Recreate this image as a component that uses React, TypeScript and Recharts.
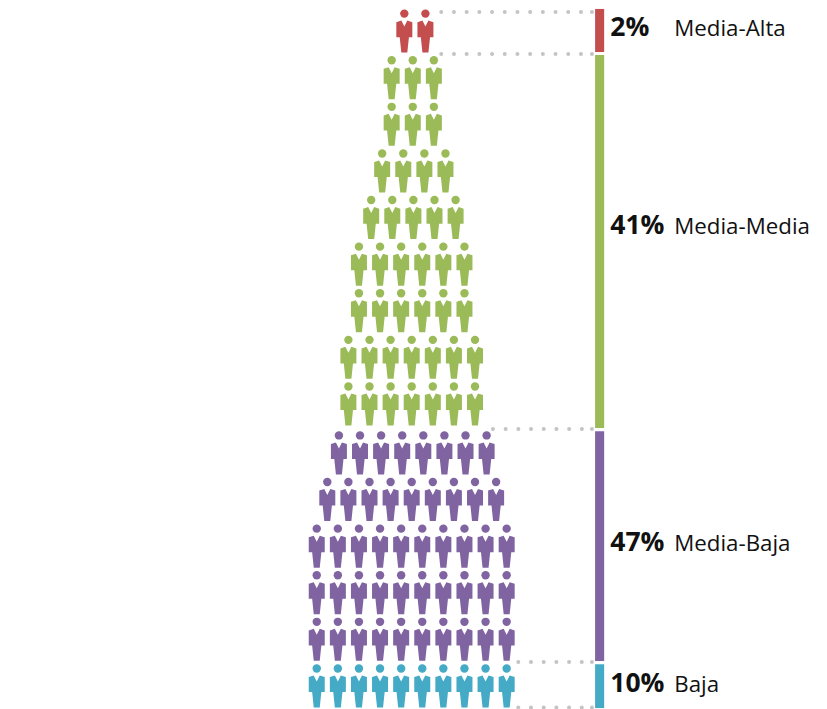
import { ScatterChart, Scatter, XAxis, YAxis, ReferenceArea, ReferenceLine, ReferenceDot } from 'recharts';

const RED = '#c44d4d';
const GREEN = '#9bbb59';
const PURPLE = '#8064a2';
const TEAL = '#44aac5';

// one entry per row of figures, top to bottom
const rowCounts = [2, 3, 3, 4, 5, 6, 6, 7, 7, 8, 9, 10, 10, 10, 10];
const rowStarts = [4.15, 3.55, 3.55, 3.1, 2.58, 2.0, 2.0, 1.5, 1.5, 1.05, 0.5, 0, 0, 0, 0];
const rowLevels = [0, 1, 2, 3, 4, 5, 6, 7, 8, 9.05, 10.05, 11.05, 12.05, 13.05, 14.05];
const rowColors = [RED, GREEN, GREEN, GREEN, GREEN, GREEN, GREEN, GREEN, GREEN, PURPLE, PURPLE, PURPLE, PURPLE, PURPLE, TEAL];

// side bars, in row units
const barTops = [-0.1, 0.888, 8.96, 13.96];
const barBottoms = [0.824, 8.893, 13.89, 14.9];
const barColors = [RED, GREEN, PURPLE, TEAL];
const percents = ['2%', '41%', '47%', '10%'];
const classes = ['Media-Alta', 'Media-Media', 'Media-Baja', 'Baja'];
const labelLevels = [0.491, 4.736, 11.53, 14.55];

// dotted guides
const guideLevels = [-0.034, 0.867, 8.913, 13.91, 14.89];
const guideStarts = [5.9, 5.9, 8.35, 9.55, 9.55];

const BAR_X1 = 13.19;
const BAR_X2 = 13.62;
const GUIDE_END = 13.04;
const LABEL_X = 13.91;

const people = rowCounts.flatMap((n, r) =>
    Array.from({ length: n }, (_, i) => ({ x: rowStarts[r] + i, y: rowLevels[r], color: rowColors[r] })),
);
const labels = percents.map((p, i) => ({ x: LABEL_X, y: labelLevels[i], pct: p, name: classes[i] }));

function Person({ cx, cy, payload }: any) {
    const body = `M${cx - 8} ${cy + 8.6} L${cx - 3} ${cy + 7} L${cx} ${cy + 13} L${cx + 3} ${cy + 7} L${cx + 8} ${cy + 8.6}
        L${cx + 8} ${cy + 23.6} L${cx + 4.6} ${cy + 23.6} L${cx + 3} ${cy + 39} L${cx - 3} ${cy + 39} L${cx - 4.6} ${cy + 23.6} L${cx - 8} ${cy + 23.6} Z`;
    return (
        <g fill={payload.color}>
            <circle cx={cx} cy={cy} r={4.2} />
            <path d={body} />
        </g>
    );
}

function ClassLabel({ cx, cy, payload }: any) {
    return (
        <g fontFamily='"Open Sans", sans-serif' fill="#111">
            <text x={cx} y={cy} fontSize={26.5} fontWeight={700}>{payload.pct}</text>
            <text x={cx + 64} y={cy} fontSize={22.3}>{payload.name}</text>
        </g>
    );
}

export default function App() {
    return (
        <div style={{ position: 'absolute', left: 0, top: 0, width: 827, height: 709, background: '#fff' }}>
            <ScatterChart width={827} height={709} margin={{ top: 0, right: 0, bottom: 0, left: 0 }}>
                <XAxis type="number" dataKey="x" domain={[-15.01, 24.18]} hide allowDataOverflow />
                <YAxis type="number" dataKey="y" domain={[-0.292, 14.92]} reversed hide allowDataOverflow />

                {guideLevels.map((y, i) => (
                    <ReferenceLine
                        key={i}
                        segment={[{ x: guideStarts[i], y }, { x: GUIDE_END, y }]}
                        stroke="#c4c4c4"
                        strokeWidth={4}
                        strokeLinecap="round"
                        strokeDasharray="0 12.7"
                    />
                ))}
                {guideLevels.map((y, i) => (
                    <ReferenceDot key={i} x={GUIDE_END} y={y} r={2} fill="#c4c4c4" stroke="none" />
                ))}

                {barColors.map((c, i) => (
                    <ReferenceArea key={c} x1={BAR_X1} x2={BAR_X2} y1={barTops[i]} y2={barBottoms[i]} fill={c} fillOpacity={1} stroke="none" />
                ))}

                <Scatter data={people} shape={Person} isAnimationActive={false} />
                <Scatter data={labels} shape={ClassLabel} isAnimationActive={false} />
            </ScatterChart>
        </div>
    );
}
